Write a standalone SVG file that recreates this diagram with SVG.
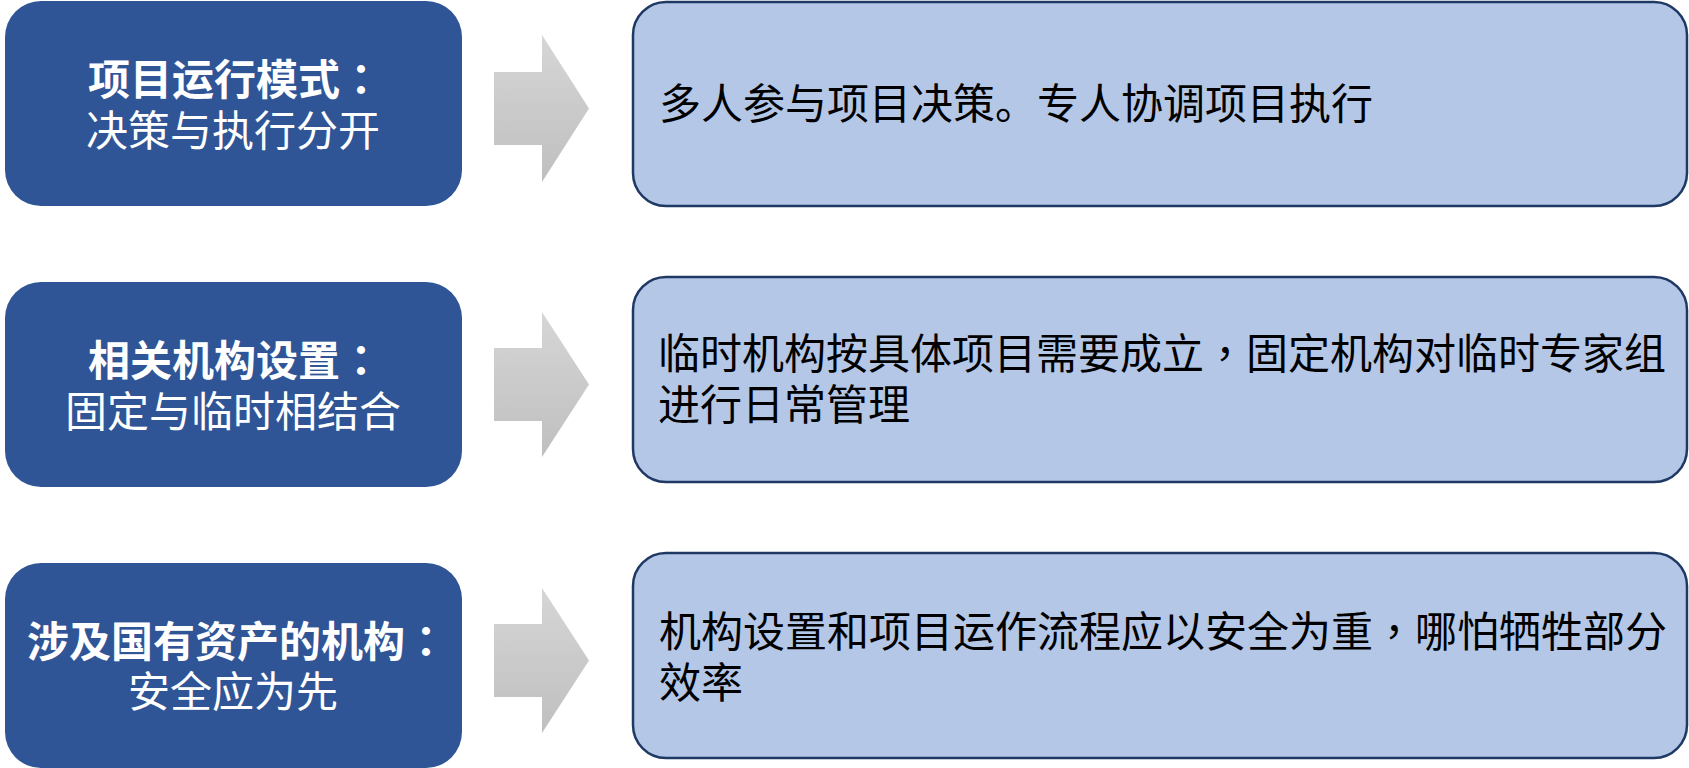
<svg xmlns="http://www.w3.org/2000/svg" width="1689" height="768" viewBox="0 0 1689 768">
<defs>
<linearGradient id="ag" x1="0" y1="0" x2="0" y2="1">
<stop offset="0" stop-color="#d6d6d6"/>
<stop offset="1" stop-color="#bfbfbf"/>
</linearGradient>
<style>
.lb{fill:#2F5597;}
.rb{fill:#B4C7E7;stroke:#1F3864;stroke-width:2.5;}
.t{font-family:"Noto Sans CJK SC","Microsoft YaHei",sans-serif;font-size:42px;}
.p{font-family:"Noto Sans CJK TC","Noto Sans CJK SC",sans-serif;}
.lt{fill:#ffffff;text-anchor:middle;}
.b{font-weight:bold;}
.rt{fill:#000000;}
.ar{fill:url(#ag);}
</style>
</defs>
<rect width="1689" height="768" fill="#ffffff"/>
<g id="left1"><rect class="lb" x="5" y="1" width="457" height="205" rx="36"/>
<text class="t lt b" x="235" y="95">项目运行模式<tspan class="p">：</tspan></text>
<text class="t lt" x="233" y="145.5">决策与执行分开</text></g>
<g id="left2"><rect class="lb" x="5" y="282" width="457" height="205" rx="36"/>
<text class="t lt b" x="235" y="375.5">相关机构设置<tspan class="p">：</tspan></text>
<text class="t lt" x="233" y="426.5">固定与临时相结合</text></g>
<g id="left3"><rect class="lb" x="5" y="563" width="457" height="205" rx="36"/>
<text class="t lt b" x="237" y="657">涉及国有资产的机构<tspan class="p">：</tspan></text>
<text class="t lt" x="233" y="707">安全应为先</text></g>
<g id="connectors">
<polygon class="ar" points="494,72 542,72 542,35 589,108.5 542,182 542,145 494,145"/>
<polygon class="ar" points="494,348 542,348 542,312 589,384.5 542,457 542,421 494,421"/>
<polygon class="ar" points="494,624 542,624 542,588 589,660.5 542,733 542,697 494,697"/>
</g>
<g id="right1"><rect class="rb" x="633" y="2" width="1054" height="204" rx="33"/>
<text class="t rt" x="659" y="119">多人参与项目决策。专人协调项目执行</text></g>
<g id="right2"><rect class="rb" x="633" y="277" width="1054" height="205" rx="33"/>
<text class="t rt" x="658" y="368.5">临时机构按具体项目需要成立<tspan class="p">，</tspan>固定机构对临时专家组</text>
<text class="t rt" x="658" y="419.5">进行日常管理</text></g>
<g id="right3"><rect class="rb" x="633" y="553" width="1054" height="205" rx="33"/>
<text class="t rt" x="659" y="646.5">机构设置和项目运作流程应以安全为重<tspan class="p">，</tspan>哪怕牺牲部分</text>
<text class="t rt" x="659" y="698">效率</text></g>
</svg>
